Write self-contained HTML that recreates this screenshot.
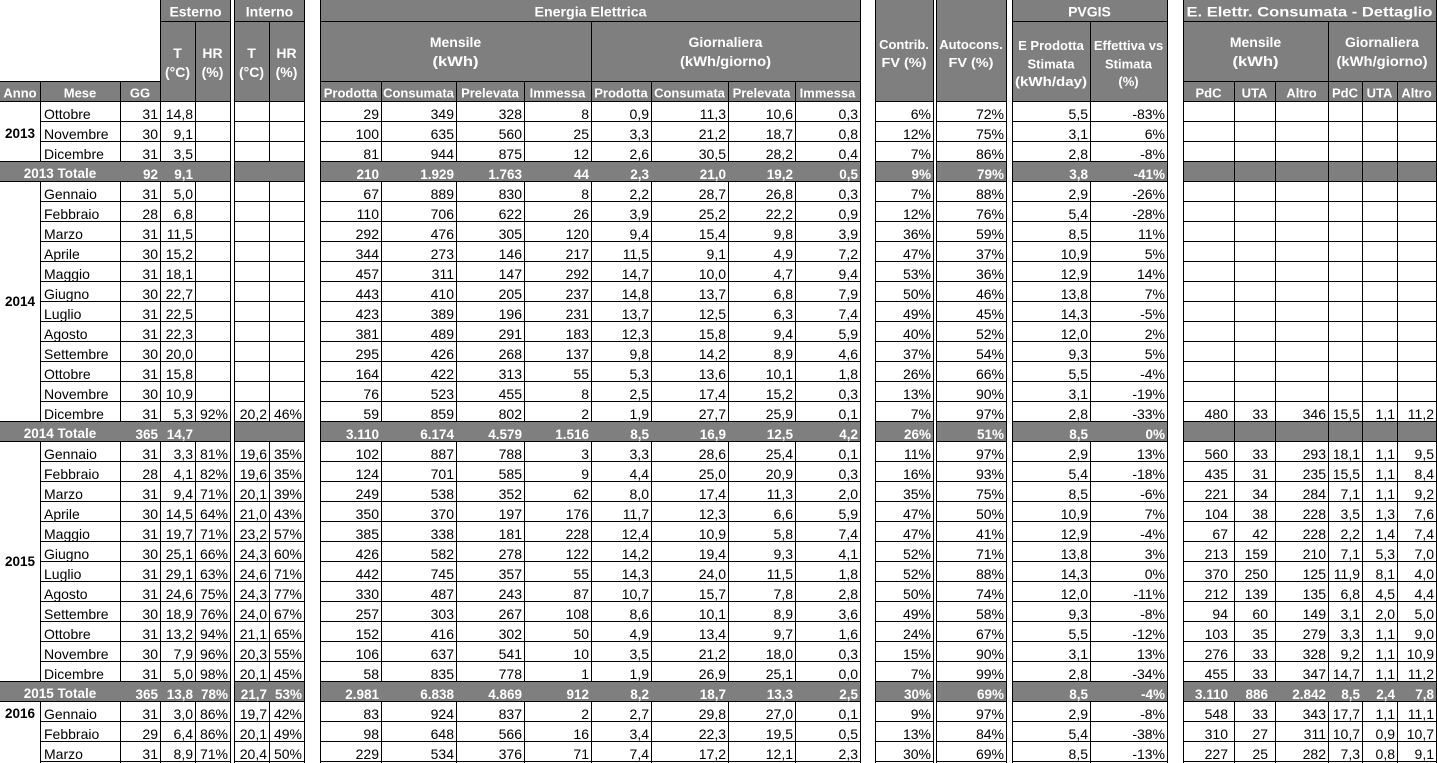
<!DOCTYPE html>
<html><head><meta charset="utf-8">
<style>
html,body{margin:0;padding:0;background:#fff;}
#w{position:relative;width:1437px;height:763px;overflow:hidden;background:#fff;font-family:"Liberation Sans",Arial,sans-serif;}
svg{position:absolute;left:0;top:0;}
.c{position:absolute;top:103.5px;font-size:14px;line-height:20px;text-align:right;color:#000;white-space:nowrap;}
.l{text-align:left;}
.c b{font-size:13.5px;line-height:1;color:#fff;font-weight:bold;}
</style></head><body><div id="w">
<svg width="1437" height="763" shape-rendering="crispEdges">
<defs><pattern id="hp" x="0" y="101" width="10" height="20" patternUnits="userSpaceOnUse"><rect x="0" y="0" width="10" height="1" fill="#000"/></pattern></defs>
<g fill="#7f7f7f">
<rect x="0" y="81" width="160" height="21"/>
<rect x="160" y="0" width="71" height="102"/>
<rect x="234" y="0" width="71" height="102"/>
<rect x="320" y="0" width="541" height="102"/>
<rect x="875" y="0" width="59" height="102"/>
<rect x="936" y="0" width="71" height="102"/>
<rect x="1012" y="0" width="156" height="102"/>
<rect x="1183" y="0" width="254" height="102"/>
</g>
<g fill="#000">
<rect x="160" y="0" width="1" height="763"/>
<rect x="230" y="0" width="1" height="763"/>
<rect x="234" y="0" width="1" height="763"/>
<rect x="304" y="0" width="1" height="763"/>
<rect x="320" y="0" width="1" height="763"/>
<rect x="860" y="0" width="1" height="763"/>
<rect x="875" y="0" width="1" height="763"/>
<rect x="933" y="0" width="1" height="763"/>
<rect x="936" y="0" width="1" height="763"/>
<rect x="1006" y="0" width="1" height="763"/>
<rect x="1012" y="0" width="1" height="763"/>
<rect x="1167" y="0" width="1" height="763"/>
<rect x="1183" y="0" width="1" height="763"/>
<rect x="1436" y="0" width="1" height="763"/>
<rect x="195" y="21" width="1" height="742"/>
<rect x="269" y="21" width="1" height="742"/>
<rect x="591" y="21" width="1" height="742"/>
<rect x="1090" y="21" width="1" height="742"/>
<rect x="1328" y="21" width="1" height="742"/>
<rect x="40" y="81" width="1" height="682"/>
<rect x="120" y="81" width="1" height="682"/>
<rect x="381" y="81" width="1" height="682"/>
<rect x="456" y="81" width="1" height="682"/>
<rect x="524" y="81" width="1" height="682"/>
<rect x="651" y="81" width="1" height="682"/>
<rect x="728" y="81" width="1" height="682"/>
<rect x="795" y="81" width="1" height="682"/>
<rect x="1234" y="81" width="1" height="682"/>
<rect x="1275" y="81" width="1" height="682"/>
<rect x="1362" y="81" width="1" height="682"/>
<rect x="1397" y="81" width="1" height="682"/>
</g>
<g fill="#7f7f7f">
<rect x="0" y="162" width="230" height="19"/><rect x="235" y="162" width="69" height="19"/><rect x="321" y="162" width="539" height="19"/><rect x="876" y="162" width="57" height="19"/><rect x="937" y="162" width="69" height="19"/><rect x="1013" y="162" width="154" height="19"/><rect x="1184" y="162" width="252" height="19"/>
<rect x="0" y="422" width="230" height="19"/><rect x="235" y="422" width="69" height="19"/><rect x="321" y="422" width="539" height="19"/><rect x="876" y="422" width="57" height="19"/><rect x="937" y="422" width="69" height="19"/><rect x="1013" y="422" width="154" height="19"/><rect x="1184" y="422" width="252" height="19"/>
<rect x="0" y="682" width="230" height="19"/><rect x="235" y="682" width="69" height="19"/><rect x="321" y="682" width="539" height="19"/><rect x="876" y="682" width="57" height="19"/><rect x="937" y="682" width="69" height="19"/><rect x="1013" y="682" width="154" height="19"/><rect x="1184" y="682" width="252" height="19"/>
</g>
<g fill="#000">
<rect x="1234" y="162" width="1" height="19"/><rect x="1275" y="162" width="1" height="19"/><rect x="1328" y="162" width="1" height="19"/><rect x="1362" y="162" width="1" height="19"/><rect x="1397" y="162" width="1" height="19"/>
<rect x="1234" y="422" width="1" height="19"/><rect x="1275" y="422" width="1" height="19"/><rect x="1328" y="422" width="1" height="19"/><rect x="1362" y="422" width="1" height="19"/><rect x="1397" y="422" width="1" height="19"/>
<rect x="160" y="21" width="71" height="1"/><rect x="234" y="21" width="71" height="1"/><rect x="320" y="21" width="541" height="1"/><rect x="1012" y="21" width="156" height="1"/><rect x="1183" y="21" width="254" height="1"/>
<rect x="0" y="81" width="161" height="1"/><rect x="320" y="81" width="541" height="1"/><rect x="1183" y="81" width="254" height="1"/>
<rect x="0" y="101" width="40" height="1"/><rect x="0" y="161" width="40" height="1"/><rect x="0" y="181" width="40" height="1"/><rect x="0" y="421" width="40" height="1"/><rect x="0" y="441" width="40" height="1"/><rect x="0" y="681" width="40" height="1"/><rect x="0" y="701" width="40" height="1"/>
</g>
<g fill="url(#hp)">
<rect x="40" y="101" width="191" height="662"/>
<rect x="234" y="101" width="71" height="662"/>
<rect x="320" y="101" width="541" height="662"/>
<rect x="875" y="101" width="59" height="662"/>
<rect x="936" y="101" width="71" height="662"/>
<rect x="1012" y="101" width="156" height="662"/>
<rect x="1183" y="101" width="254" height="662"/>
</g>
<g font-family="Liberation Sans, Arial, sans-serif" font-weight="bold" fill="#fff" text-anchor="middle" shape-rendering="auto">
<g font-size="14">
<text x="195.5" y="16.5">Esterno</text>
<text x="269.5" y="16.5">Interno</text>
<text x="590.5" y="16.5" textLength="112" lengthAdjust="spacingAndGlyphs">Energia Elettrica</text>
<text x="1089.5" y="16.5">PVGIS</text>
<text x="1309.5" y="16.5" textLength="246" lengthAdjust="spacingAndGlyphs">E. Elettr. Consumata - Dettaglio</text>
<text x="177.5" y="58">T</text><text x="177.5" y="77">(°C)</text>
<text x="212.5" y="58">HR</text><text x="212.5" y="77">(%)</text>
<text x="251.5" y="58">T</text><text x="251.5" y="77">(°C)</text>
<text x="286.5" y="58">HR</text><text x="286.5" y="77">(%)</text>
<text x="455.5" y="47">Mensile</text><text x="455.5" y="66" textLength="46" lengthAdjust="spacingAndGlyphs">(kWh)</text>
<text x="725.5" y="47">Giornaliera</text><text x="725.5" y="66" textLength="91" lengthAdjust="spacingAndGlyphs">(kWh/giorno)</text>
<text x="1255.5" y="47">Mensile</text><text x="1255.5" y="66" textLength="46" lengthAdjust="spacingAndGlyphs">(kWh)</text>
<text x="1382" y="47">Giornaliera</text><text x="1382" y="66" textLength="91" lengthAdjust="spacingAndGlyphs">(kWh/giorno)</text>
</g>
<g font-size="13">
<text x="904" y="49">Contrib.</text><text x="904" y="67" textLength="45" lengthAdjust="spacingAndGlyphs">FV (%)</text>
<text x="971" y="49">Autocons.</text><text x="971" y="67" textLength="45" lengthAdjust="spacingAndGlyphs">FV (%)</text>
<text x="1051" y="50">E Prodotta</text><text x="1051" y="68.5">Stimata</text><text x="1051" y="86" textLength="72" lengthAdjust="spacingAndGlyphs">(kWh/day)</text>
<text x="1128.5" y="50">Effettiva vs</text><text x="1128.5" y="68.5">Stimata</text><text x="1128.5" y="86">(%)</text>
<text x="20" y="97.5">Anno</text>
<text x="80" y="97.5">Mese</text>
<text x="140" y="97.5">GG</text>
<text x="350.5" y="97.5">Prodotta</text>
<text x="418.5" y="97.5">Consumata</text>
<text x="490" y="97.5">Prelevata</text>
<text x="557.5" y="97.5">Immessa</text>
<text x="621" y="97.5">Prodotta</text>
<text x="689.5" y="97.5">Consumata</text>
<text x="761.5" y="97.5">Prelevata</text>
<text x="827.5" y="97.5">Immessa</text>
<text x="1208.5" y="97.5">PdC</text>
<text x="1254.5" y="97.5">UTA</text>
<text x="1301.5" y="97.5">Altro</text>
<text x="1345" y="97.5">PdC</text>
<text x="1379.5" y="97.5">UTA</text>
<text x="1416.5" y="97.5">Altro</text>
</g>
<g font-size="13.5">
<text x="60" y="178">2013 Totale</text>
<text x="60" y="438">2014 Totale</text>
<text x="60" y="698">2015 Totale</text>
</g>
<g font-size="13.5" fill="#000">
<text x="20" y="138">2013</text>
<text x="20" y="306">2014</text>
<text x="20" y="566">2015</text>
<text x="20" y="718">2016</text>
</g>
</g>
</svg>

<div class="c l" style="left:44px;width:76px">Ottobre<br>Novembre<br>Dicembre<br>&nbsp;<br>Gennaio<br>Febbraio<br>Marzo<br>Aprile<br>Maggio<br>Giugno<br>Luglio<br>Agosto<br>Settembre<br>Ottobre<br>Novembre<br>Dicembre<br>&nbsp;<br>Gennaio<br>Febbraio<br>Marzo<br>Aprile<br>Maggio<br>Giugno<br>Luglio<br>Agosto<br>Settembre<br>Ottobre<br>Novembre<br>Dicembre<br>&nbsp;<br>Gennaio<br>Febbraio<br>Marzo</div>

<div class="c" style="left:121px;width:37px">31<br>30<br>31<br><b>92</b><br>31<br>28<br>31<br>30<br>31<br>30<br>31<br>31<br>30<br>31<br>30<br>31<br><b>365</b><br>31<br>28<br>31<br>30<br>31<br>30<br>31<br>31<br>30<br>31<br>30<br>31<br><b>365</b><br>31<br>29<br>31</div>

<div class="c" style="left:161px;width:32px">14,8<br>9,1<br>3,5<br><b>9,1</b><br>5,0<br>6,8<br>11,5<br>15,2<br>18,1<br>22,7<br>22,5<br>22,3<br>20,0<br>15,8<br>10,9<br>5,3<br><b>14,7</b><br>3,3<br>4,1<br>9,4<br>14,5<br>19,7<br>25,1<br>29,1<br>24,6<br>18,9<br>13,2<br>7,9<br>5,0<br><b>13,8</b><br>3,0<br>6,4<br>8,9</div>

<div class="c" style="left:196px;width:32px;top:403.5px">92%<br>&nbsp;<br>81%<br>82%<br>71%<br>64%<br>71%<br>66%<br>63%<br>75%<br>76%<br>94%<br>96%<br>98%<br><b>78%</b><br>86%<br>86%<br>71%</div>

<div class="c" style="left:235px;width:32px;top:403.5px">20,2<br>&nbsp;<br>19,6<br>19,6<br>20,1<br>21,0<br>23,2<br>24,3<br>24,6<br>24,3<br>24,0<br>21,1<br>20,3<br>20,1<br><b>21,7</b><br>19,7<br>20,1<br>20,4</div>

<div class="c" style="left:270px;width:32px;top:403.5px">46%<br>&nbsp;<br>35%<br>35%<br>39%<br>43%<br>57%<br>60%<br>71%<br>77%<br>67%<br>65%<br>55%<br>45%<br><b>53%</b><br>42%<br>49%<br>50%</div>

<div class="c" style="left:321px;width:58px">29<br>100<br>81<br><b>210</b><br>67<br>110<br>292<br>344<br>457<br>443<br>423<br>381<br>295<br>164<br>76<br>59<br><b>3.110</b><br>102<br>124<br>249<br>350<br>385<br>426<br>442<br>330<br>257<br>152<br>106<br>58<br><b>2.981</b><br>83<br>98<br>229</div>

<div class="c" style="left:382px;width:72px">349<br>635<br>944<br><b>1.929</b><br>889<br>706<br>476<br>273<br>311<br>410<br>389<br>489<br>426<br>422<br>523<br>859<br><b>6.174</b><br>887<br>701<br>538<br>370<br>338<br>582<br>745<br>487<br>303<br>416<br>637<br>835<br><b>6.838</b><br>924<br>648<br>534</div>

<div class="c" style="left:457px;width:65px">328<br>560<br>875<br><b>1.763</b><br>830<br>622<br>305<br>146<br>147<br>205<br>196<br>291<br>268<br>313<br>455<br>802<br><b>4.579</b><br>788<br>585<br>352<br>197<br>181<br>278<br>357<br>243<br>267<br>302<br>541<br>778<br><b>4.869</b><br>837<br>566<br>376</div>

<div class="c" style="left:525px;width:64px">8<br>25<br>12<br><b>44</b><br>8<br>26<br>120<br>217<br>292<br>237<br>231<br>183<br>137<br>55<br>8<br>2<br><b>1.516</b><br>3<br>9<br>62<br>176<br>228<br>122<br>55<br>87<br>108<br>50<br>10<br>1<br><b>912</b><br>2<br>16<br>71</div>

<div class="c" style="left:592px;width:57px">0,9<br>3,3<br>2,6<br><b>2,3</b><br>2,2<br>3,9<br>9,4<br>11,5<br>14,7<br>14,8<br>13,7<br>12,3<br>9,8<br>5,3<br>2,5<br>1,9<br><b>8,5</b><br>3,3<br>4,4<br>8,0<br>11,7<br>12,4<br>14,2<br>14,3<br>10,7<br>8,6<br>4,9<br>3,5<br>1,9<br><b>8,2</b><br>2,7<br>3,4<br>7,4</div>

<div class="c" style="left:652px;width:74px">11,3<br>21,2<br>30,5<br><b>21,0</b><br>28,7<br>25,2<br>15,4<br>9,1<br>10,0<br>13,7<br>12,5<br>15,8<br>14,2<br>13,6<br>17,4<br>27,7<br><b>16,9</b><br>28,6<br>25,0<br>17,4<br>12,3<br>10,9<br>19,4<br>24,0<br>15,7<br>10,1<br>13,4<br>21,2<br>26,9<br><b>18,7</b><br>29,8<br>22,3<br>17,2</div>

<div class="c" style="left:729px;width:64px">10,6<br>18,7<br>28,2<br><b>19,2</b><br>26,8<br>22,2<br>9,8<br>4,9<br>4,7<br>6,8<br>6,3<br>9,4<br>8,9<br>10,1<br>15,2<br>25,9<br><b>12,5</b><br>25,4<br>20,9<br>11,3<br>6,6<br>5,8<br>9,3<br>11,5<br>7,8<br>8,9<br>9,7<br>18,0<br>25,1<br><b>13,3</b><br>27,0<br>19,5<br>12,1</div>

<div class="c" style="left:796px;width:62px">0,3<br>0,8<br>0,4<br><b>0,5</b><br>0,3<br>0,9<br>3,9<br>7,2<br>9,4<br>7,9<br>7,4<br>5,9<br>4,6<br>1,8<br>0,3<br>0,1<br><b>4,2</b><br>0,1<br>0,3<br>2,0<br>5,9<br>7,4<br>4,1<br>1,8<br>2,8<br>3,6<br>1,6<br>0,3<br>0,0<br><b>2,5</b><br>0,1<br>0,5<br>2,3</div>

<div class="c" style="left:876px;width:55px">6%<br>12%<br>7%<br><b>9%</b><br>7%<br>12%<br>36%<br>47%<br>53%<br>50%<br>49%<br>40%<br>37%<br>26%<br>13%<br>7%<br><b>26%</b><br>11%<br>16%<br>35%<br>47%<br>47%<br>52%<br>52%<br>50%<br>49%<br>24%<br>15%<br>7%<br><b>30%</b><br>9%<br>13%<br>30%</div>

<div class="c" style="left:937px;width:67px">72%<br>75%<br>86%<br><b>79%</b><br>88%<br>76%<br>59%<br>37%<br>36%<br>46%<br>45%<br>52%<br>54%<br>66%<br>90%<br>97%<br><b>51%</b><br>97%<br>93%<br>75%<br>50%<br>41%<br>71%<br>88%<br>74%<br>58%<br>67%<br>90%<br>99%<br><b>69%</b><br>97%<br>84%<br>69%</div>

<div class="c" style="left:1013px;width:75px">5,5<br>3,1<br>2,8<br><b>3,8</b><br>2,9<br>5,4<br>8,5<br>10,9<br>12,9<br>13,8<br>14,3<br>12,0<br>9,3<br>5,5<br>3,1<br>2,8<br><b>8,5</b><br>2,9<br>5,4<br>8,5<br>10,9<br>12,9<br>13,8<br>14,3<br>12,0<br>9,3<br>5,5<br>3,1<br>2,8<br><b>8,5</b><br>2,9<br>5,4<br>8,5</div>

<div class="c" style="left:1091px;width:74px">-83%<br>6%<br>-8%<br><b>-41%</b><br>-26%<br>-28%<br>11%<br>5%<br>14%<br>7%<br>-5%<br>2%<br>5%<br>-4%<br>-19%<br>-33%<br><b>0%</b><br>13%<br>-18%<br>-6%<br>7%<br>-4%<br>3%<br>0%<br>-11%<br>-8%<br>-12%<br>13%<br>-34%<br><b>-4%</b><br>-8%<br>-38%<br>-13%</div>

<div class="c" style="left:1184px;width:44px;top:403.5px">480<br>&nbsp;<br>560<br>435<br>221<br>104<br>67<br>213<br>370<br>212<br>94<br>103<br>276<br>455<br><b>3.110</b><br>548<br>310<br>227</div>

<div class="c" style="left:1235px;width:33px;top:403.5px">33<br>&nbsp;<br>33<br>31<br>34<br>38<br>42<br>159<br>250<br>139<br>60<br>35<br>33<br>33<br><b>886</b><br>33<br>27<br>25</div>

<div class="c" style="left:1276px;width:50px;top:403.5px">346<br>&nbsp;<br>293<br>235<br>284<br>228<br>228<br>210<br>125<br>135<br>149<br>279<br>328<br>347<br><b>2.842</b><br>343<br>311<br>282</div>

<div class="c" style="left:1329px;width:31px;top:403.5px">15,5<br>&nbsp;<br>18,1<br>15,5<br>7,1<br>3,5<br>2,2<br>7,1<br>11,9<br>6,8<br>3,1<br>3,3<br>9,2<br>14,7<br><b>8,5</b><br>17,7<br>10,7<br>7,3</div>

<div class="c" style="left:1363px;width:32px;top:403.5px">1,1<br>&nbsp;<br>1,1<br>1,1<br>1,1<br>1,3<br>1,4<br>5,3<br>8,1<br>4,5<br>2,0<br>1,1<br>1,1<br>1,1<br><b>2,4</b><br>1,1<br>0,9<br>0,8</div>

<div class="c" style="left:1398px;width:36px;top:403.5px">11,2<br>&nbsp;<br>9,5<br>8,4<br>9,2<br>7,6<br>7,4<br>7,0<br>4,0<br>4,4<br>5,0<br>9,0<br>10,9<br>11,2<br><b>7,8</b><br>11,1<br>10,7<br>9,1</div>

</div></body></html>
